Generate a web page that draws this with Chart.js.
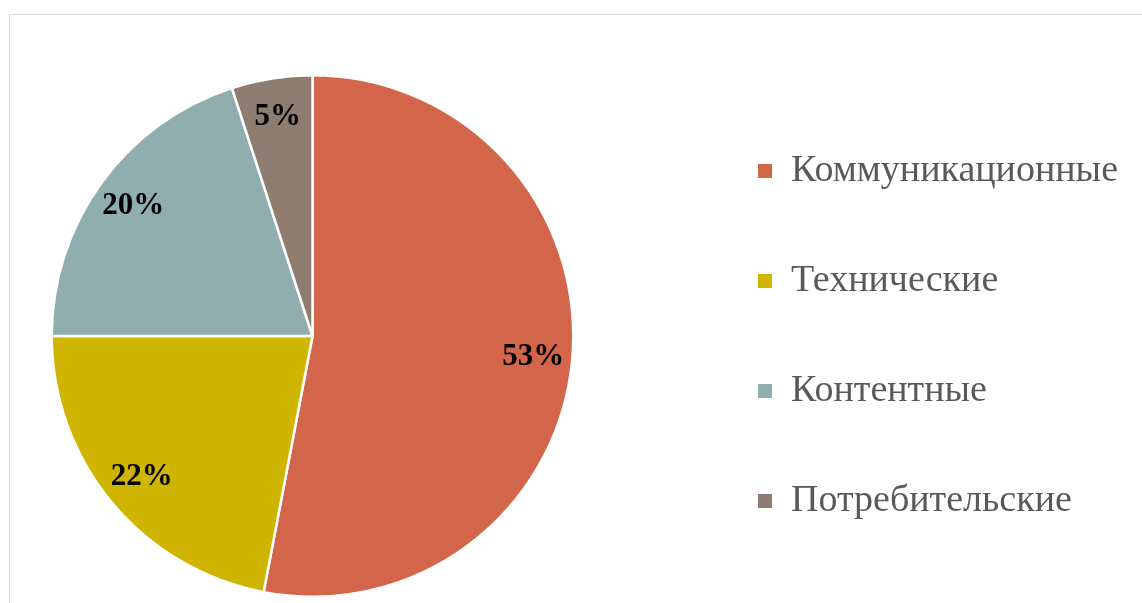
<!DOCTYPE html>
<html>
<head>
<meta charset="utf-8">
<script src="https://cdn.jsdelivr.net/npm/chart.js@4"></script>
<style>
  body { margin: 0; background: #fff; overflow: hidden; }
  #frame { position: absolute; left: 9px; top: 14px; width: 1200px; height: 700px; border: 1px solid #d9d9d9; }
  #chart { position: absolute; left: -61px; top: 0; }
</style>
</head>
<body>
<div id="frame"></div>
<canvas id="chart" width="1203" height="603"></canvas>
<script>
const categories = ['Коммуникационные', 'Технические', 'Контентные', 'Потребительские'];
const shares = [53, 22, 20, 5];
const sliceColors = ['#D2654A', '#CFB500', '#8FAEAD', '#8E7C70'];

// draws the percent inside every slice
const sliceLabels = {
  id: 'sliceLabels',
  afterDatasetsDraw(chart) {
    const ctx = chart.ctx;
    const meta = chart.getDatasetMeta(0);
    ctx.save();
    ctx.font = 'bold 31px "Liberation Serif"';
    ctx.fillStyle = '#000';
    ctx.textAlign = 'center';
    ctx.textBaseline = 'middle';
    meta.data.forEach((arc, i) => {
      const p = arc.getProps(['x', 'y', 'startAngle', 'endAngle', 'outerRadius'], true);
      const mid = (p.startAngle + p.endAngle) / 2;
      const r = p.outerRadius * 0.85;
      ctx.fillText(shares[i] + '%', p.x + Math.cos(mid) * r, p.y + Math.sin(mid) * r);
    });
    ctx.restore();
  }
};

const ctx = document.getElementById('chart').getContext('2d');
new Chart(ctx, {
  type: 'pie',
  data: {
    labels: categories,
    datasets: [{
      data: shares,
      backgroundColor: sliceColors,
      borderColor: '#ffffff',
      borderWidth: 2.5
    }]
  },
  options: {
    responsive: false,
    animation: false,
    layout: { padding: { left: 0, top: 74, right: 14, bottom: 5 } },
    plugins: {
      tooltip: { enabled: false },
      legend: {
        position: 'right',
        align: 'center',
        labels: {
          color: '#595959',
          font: { family: '"Liberation Serif"', size: 38 },
          boxWidth: 14,
          boxHeight: 14,
          padding: 72,
          generateLabels(chart) {
            return chart.data.labels.map((label, i) => ({
              text: label,
              fillStyle: sliceColors[i],
              strokeStyle: sliceColors[i],
              lineWidth: 0,
              fontColor: '#595959',
              index: i
            }));
          }
        }
      }
    }
  },
  plugins: [sliceLabels]
});
</script>
</body>
</html>
